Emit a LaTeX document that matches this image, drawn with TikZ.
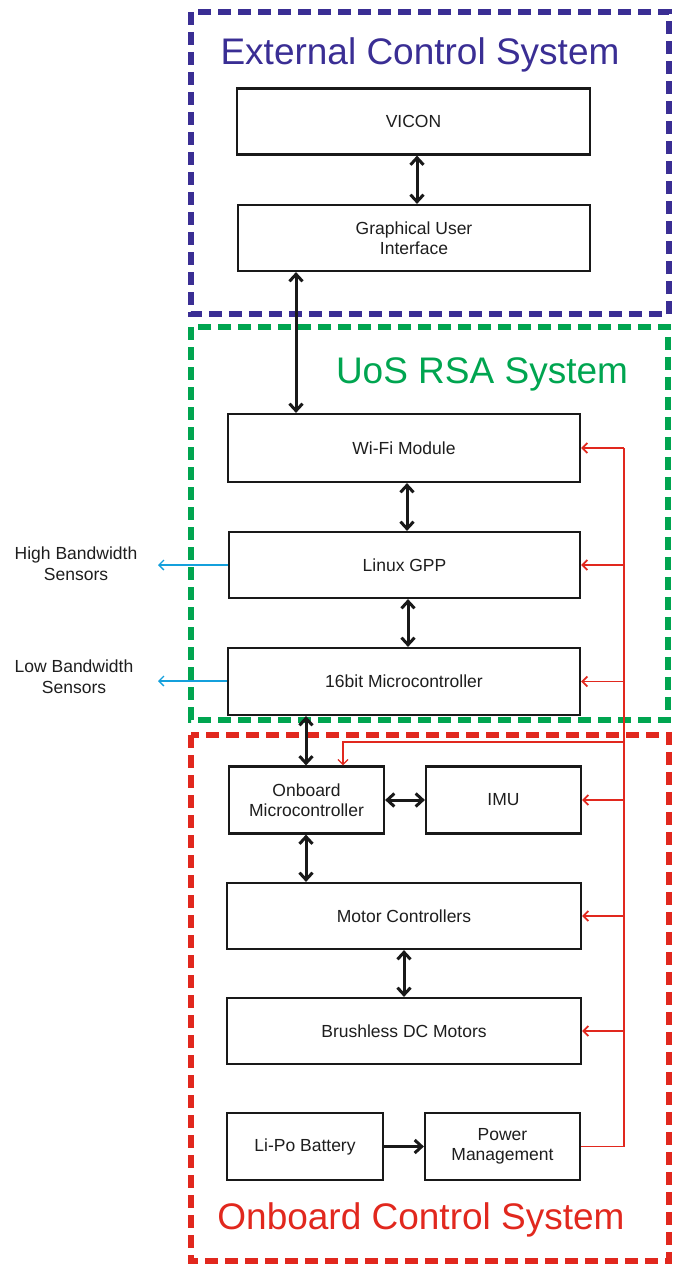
\documentclass[tikz,border=0pt]{standalone}
\usepackage{fontspec}
\setmainfont{Liberation Sans}
\usetikzlibrary{arrows.meta}
\definecolor{extblue}{RGB}{58,46,148}
\definecolor{rsagreen}{RGB}{0,165,80}
\definecolor{obred}{RGB}{225,40,30}
\definecolor{sensblue}{RGB}{20,160,220}
\definecolor{boxtext}{RGB}{30,30,30}
\tikzset{
  frame/.style={line width=5.5pt, dash pattern=on 13pt off 7pt},
  block/.style={draw=black!90, line width=2.2pt, fill=white, inner sep=0pt,
    align=center, text=boxtext, font=\fontsize{17.5}{20.5}\selectfont},
  title/.style={font=\fontsize{37}{41}\selectfont, inner sep=0pt},
  biarrow/.style={line width=3pt, black!90,
    {Straight Barb[length=7pt,width=13pt]}-{Straight Barb[length=7pt,width=13pt]}},
  onearrow/.style={line width=3pt, black!90, -{Straight Barb[length=7pt,width=13pt]}},
  power/.style={obred, line width=1.3pt},
  powerin/.style={obred, line width=1.8pt, -{Straight Barb[length=5pt,width=10pt]}},
  sensor/.style={sensblue, line width=1.3pt, -{Straight Barb[length=5pt,width=10pt]}},
  sidelabel/.style={align=center, text=boxtext, font=\fontsize{17.5}{21}\selectfont, inner sep=0pt}
}
\begin{document}
\begin{tikzpicture}[x=1pt,y=-1pt]
\useasboundingbox (0,0) rectangle (672,1265);

% subsystem frames
\draw[frame, extblue] (191,12) rectangle (669,314);
\draw[frame, rsagreen] (191,327) rectangle (668,720);
\draw[frame, obred] (191,735) rectangle (669,1261);

\node[title, text=extblue] (exttitle) at (420,55) {External Control System};
\node[title, text=rsagreen] (rsatitle) at (482,374) {UoS RSA System};
\node[title, text=obred] (obtitle) at (421,1220) {Onboard Control System};

% blocks
\node[block, minimum width=353pt, minimum height=66pt] (vicon) at (413.5,121.5) {VICON};
\node[block, minimum width=352pt, minimum height=66pt] (gui) at (414,238) {Graphical User\\Interface};
\node[block, minimum width=352pt, minimum height=68pt] (wifi) at (404,448) {Wi-Fi Module};
\node[block, minimum width=351pt, minimum height=66pt] (linux) at (404.5,565) {Linux GPP};
\node[block, minimum width=352pt, minimum height=67pt] (mcu16) at (404,681.5) {16bit Microcontroller};
\node[block, minimum width=155pt, minimum height=67pt] (obmcu) at (306.5,800) {Onboard\\Microcontroller};
\node[block, minimum width=155pt, minimum height=67pt] (imu) at (503.5,800) {IMU};
\node[block, minimum width=354pt, minimum height=66pt] (motorctl) at (404,916) {Motor Controllers};
\node[block, minimum width=354pt, minimum height=66pt] (bldc) at (404,1031) {Brushless DC Motors};
\node[block, minimum width=156pt, minimum height=67pt] (lipo) at (305,1146.5) {Li-Po Battery};
\node[block, minimum width=155pt, minimum height=67pt] (pm) at (502.5,1146.5) {Power\\Management};

% external sensors
\node[sidelabel] (hbs) at (76,563.5) {High Bandwidth\\Sensors};
\node[sidelabel] (lbs) at (74,677) {Low Bandwidth\\Sensors};
\coordinate (hbsend) at (158,565);
\coordinate (lbsend) at (158,681);
\draw[sensor] (linux.west) -- (hbsend);
\draw[sensor] (mcu16.west |- lbsend) -- (lbsend);

% data links
\draw[biarrow] (vicon.south -| 417,0) -- (gui.north -| 417,0);
\draw[biarrow] (gui.south -| 296,0) -- (wifi.north -| 296,0);
\draw[biarrow] (wifi.south -| 407,0) -- (linux.north -| 407,0);
\draw[biarrow] (linux.south -| 408,0) -- (mcu16.north -| 408,0);
\draw[biarrow] (mcu16.south -| 306,0) -- (obmcu.north -| 306,0);
\draw[biarrow] (obmcu.east) -- (imu.west);
\draw[biarrow] (obmcu.south -| 306,0) -- (motorctl.north -| 306,0);
\draw[biarrow] (motorctl.south -| 404,0) -- (bldc.north -| 404,0);
\draw[onearrow] (lipo.east) -- (pm.west);

% power distribution bus
\coordinate (bustop) at (624,448);
\coordinate (busbot) at (624,1146.5);
\coordinate (obtap) at (624,742);
\coordinate (obbend) at (343,742);
\draw[power] (pm.east) -- (busbot) -- (bustop);
\draw[powerin] (bustop) -- (wifi.east);
\draw[powerin] (linux.east -| bustop) -- (linux.east);
\draw[powerin] (mcu16.east -| bustop) -- (mcu16.east);
\draw[powerin] (imu.east -| bustop) -- (imu.east);
\draw[powerin] (motorctl.east -| bustop) -- (motorctl.east);
\draw[powerin] (bldc.east -| bustop) -- (bldc.east);
\draw[power, -{Straight Barb[length=5pt,width=10pt]}] (obtap) -- (obbend) -- (obbend |- obmcu.north);
\end{tikzpicture}
\end{document}
